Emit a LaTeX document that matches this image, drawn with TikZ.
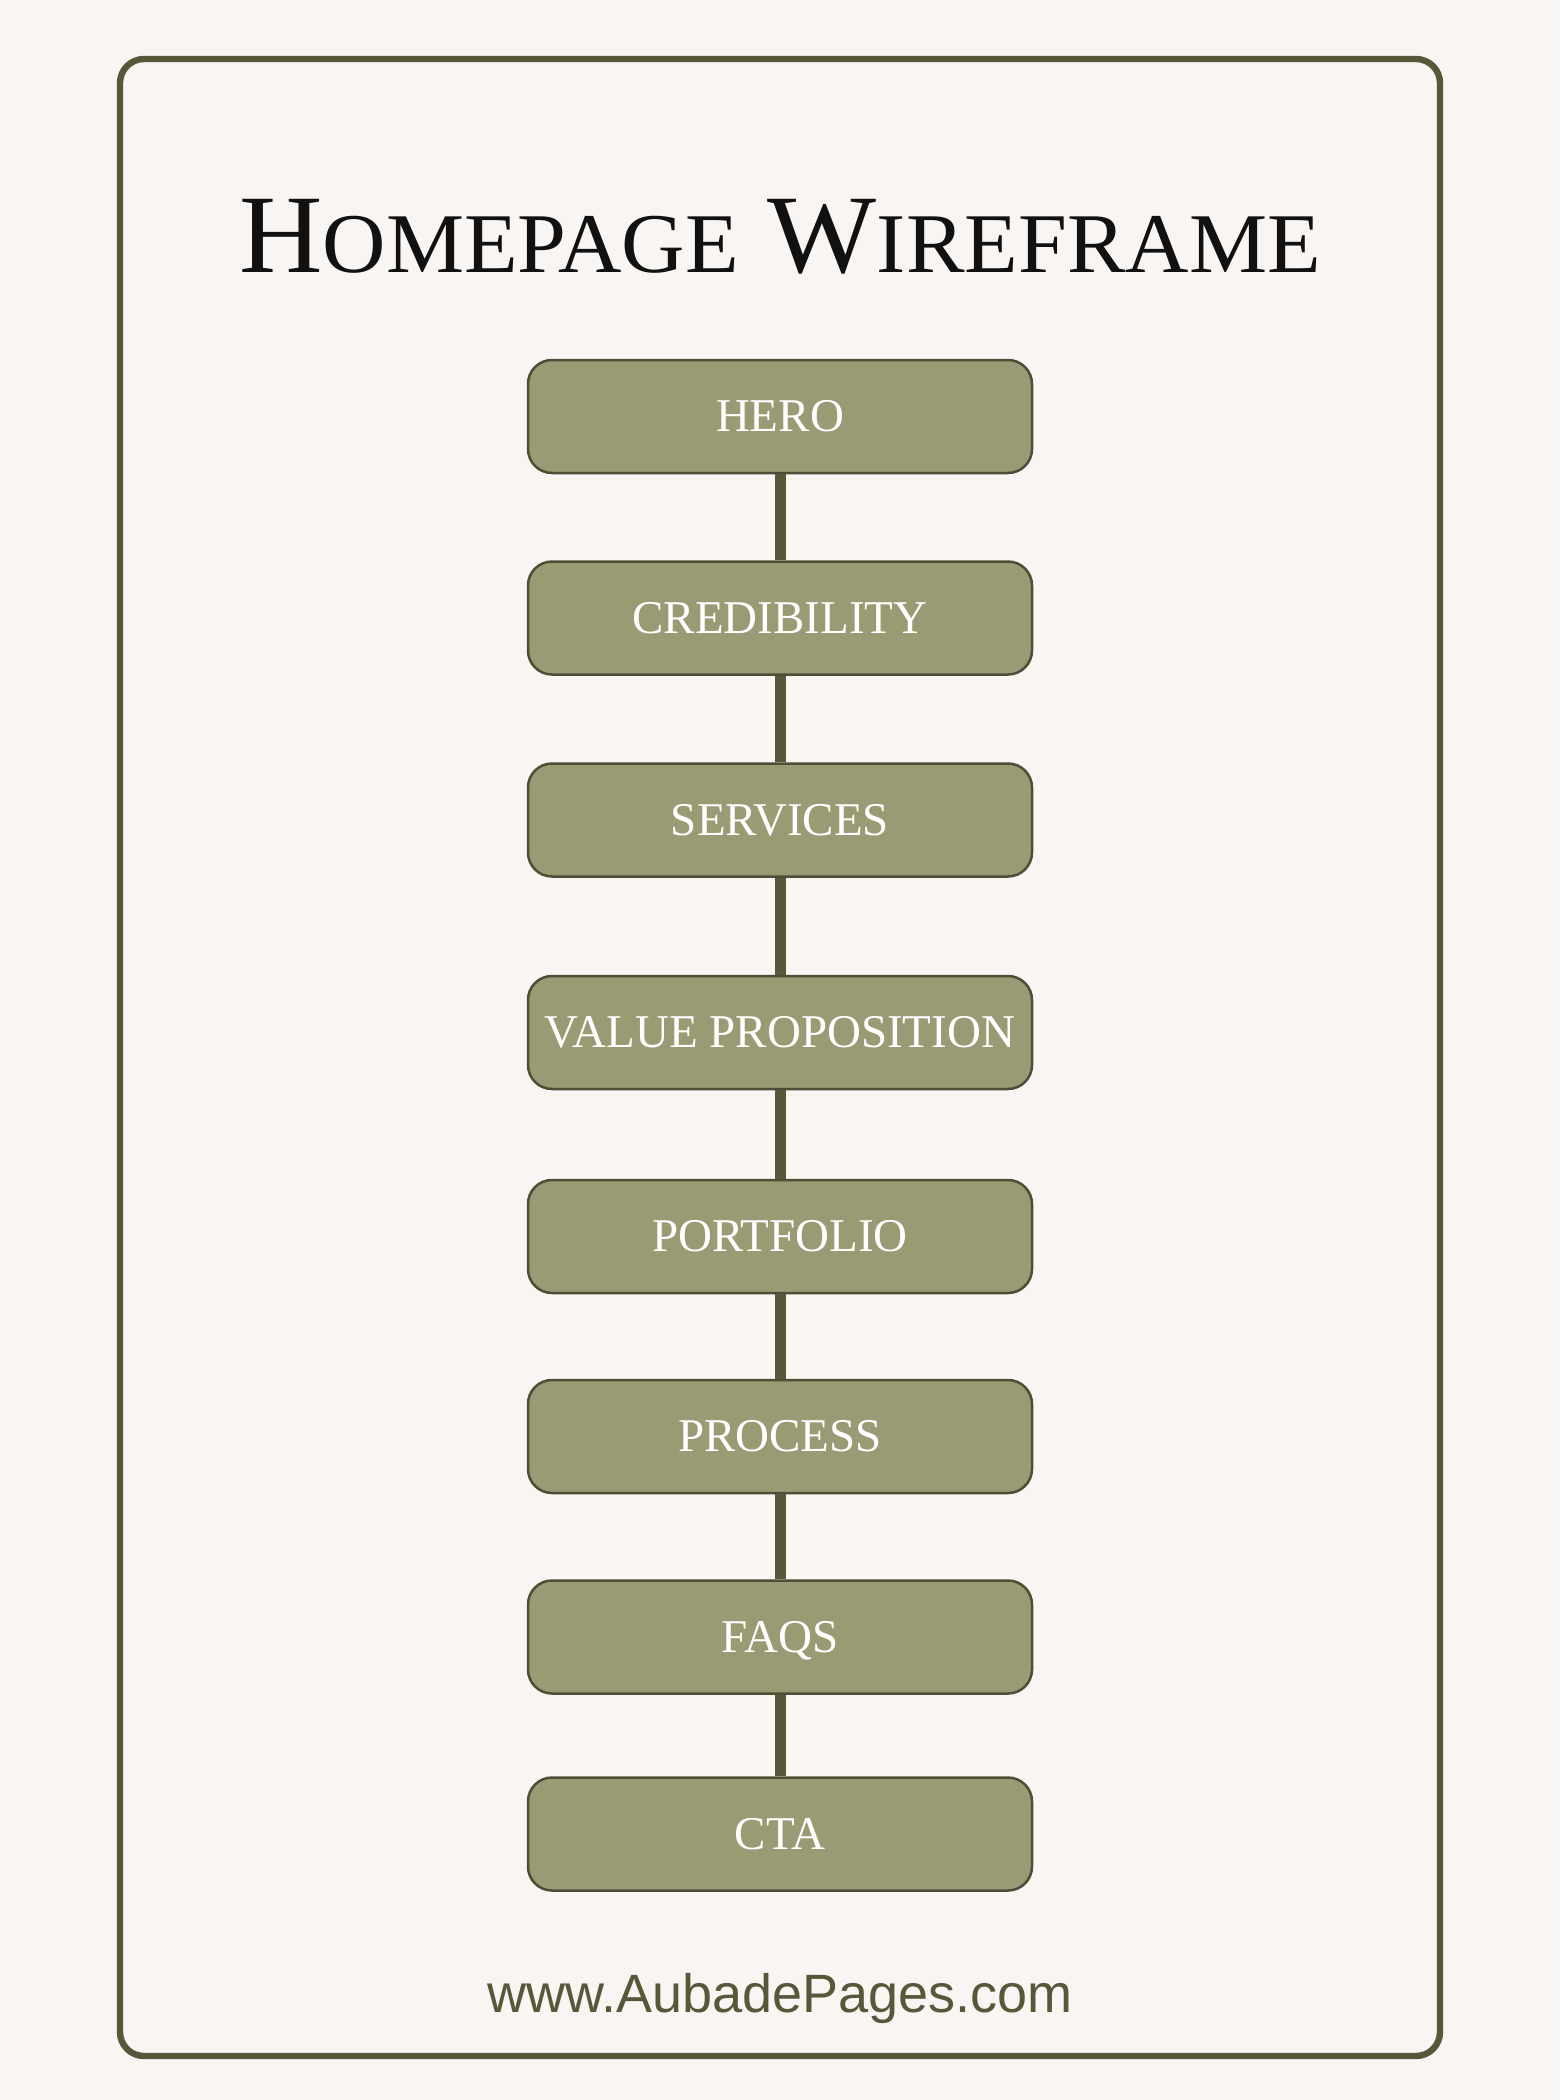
\documentclass[tikz,border=0pt]{standalone}
\usepackage{fontspec}
\setmainfont{Liberation Serif}
\newfontfamily\footfont{Liberation Sans}
\definecolor{bgc}{HTML}{F9F5F2}
\definecolor{olive}{HTML}{57573A}
\definecolor{boxfill}{HTML}{9A9A74}
\definecolor{boxline}{HTML}{4E4E36}
\definecolor{titlec}{HTML}{111111}
\begin{document}
\begin{tikzpicture}[x=0.5pt,y=-0.5pt,
  sect/.style={draw=boxline, line width=1.25pt, fill=boxfill, rounded corners=12pt,
    minimum width=252pt, minimum height=56.5pt, inner sep=0pt, text=white,
    font=\fontsize{23.5}{23.5}\selectfont, text height=15pt, text depth=0pt},
  link/.style={draw=olive, line width=5.5pt}]
\useasboundingbox (0,0) rectangle (1560,2100);
\fill[bgc] (0,0) rectangle (1560,2100);
\draw[olive, line width=3.2pt, rounded corners=12pt] (120,59) rectangle (1440,2056);
\node[anchor=base, text=titlec, inner sep=0pt, font=\fontsize{55.9}{56}\selectfont] (title) at (780,272)
  {\scalebox{1.033}[1]{H{\fontsize{42.5}{43}\selectfont OMEPAGE} W{\fontsize{42.5}{43}\selectfont IREFRAME}}};
\node[sect] (hero) at (780,416.5) {HERO};
\node[sect] (cred) at (780,618) {CREDIBILITY};
\node[sect] (serv) at (780,820) {SERVICES};
\node[sect] (value) at (780,1032.5) {VALUE PROPOSITION};
\node[sect] (port) at (780,1236.5) {PORTFOLIO};
\node[sect] (proc) at (780,1436.5) {PROCESS};
\node[sect] (faqs) at (780,1637) {FAQS};
\node[sect] (cta) at (780,1834) {CTA};
\draw[link] (hero.south) -- (cred.north);
\draw[link] (cred.south) -- (serv.north);
\draw[link] (serv.south) -- (value.north);
\draw[link] (value.south) -- (port.north);
\draw[link] (port.south) -- (proc.north);
\draw[link] (proc.south) -- (faqs.north);
\draw[link] (faqs.south) -- (cta.north);
\node[anchor=base, text=olive, inner sep=0pt, font=\footfont\fontsize{27}{28}\selectfont] (url) at (780,2012) {www.AubadePages.com};
\end{tikzpicture}
\end{document}
